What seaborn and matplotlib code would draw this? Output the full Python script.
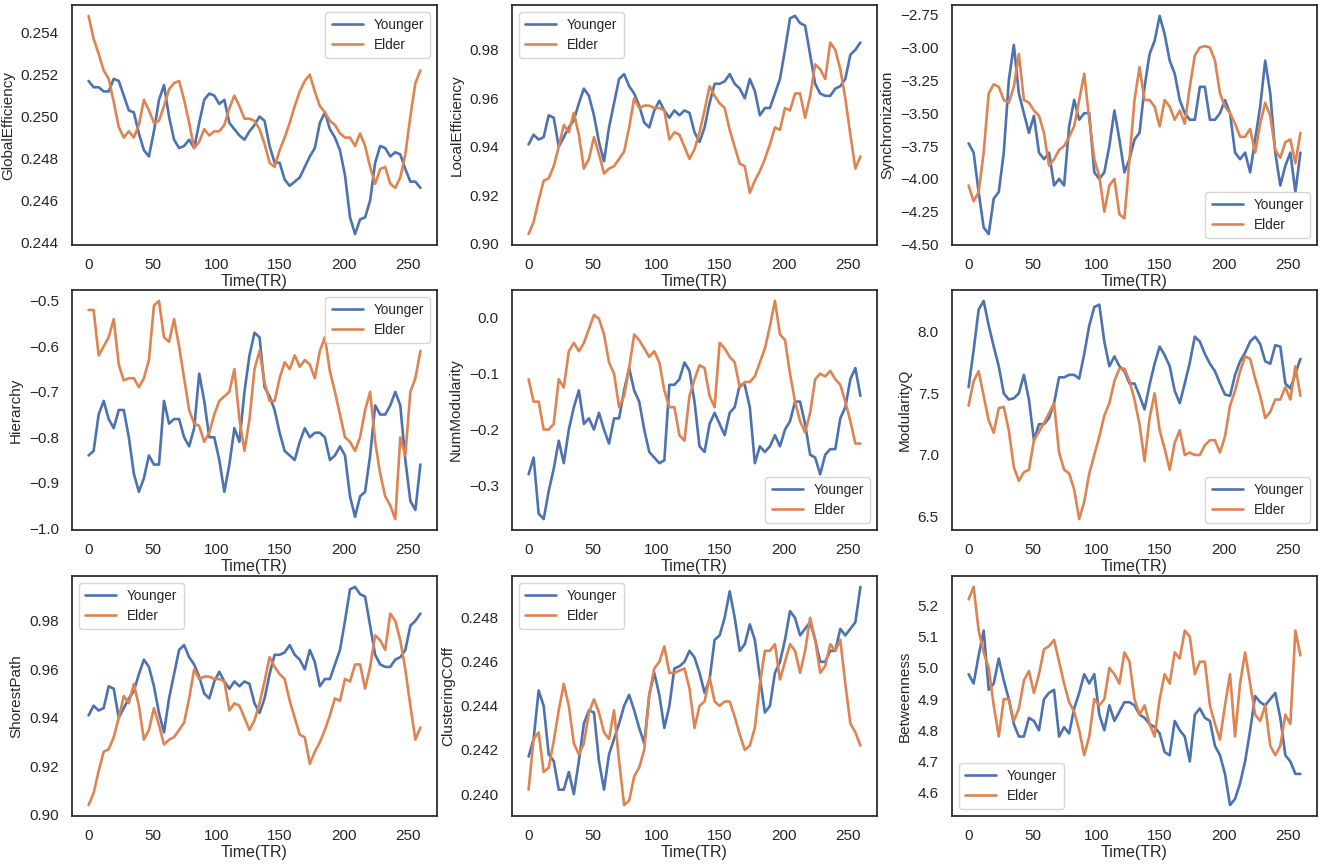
import numpy as np
import matplotlib
matplotlib.use("Agg")
import matplotlib.pyplot as plt
import seaborn as sns

sns.set_theme(style="white", context="notebook")
plt.rcParams['font.family'] = ['Liberation Sans', 'DejaVu Sans']
plt.rcParams['axes.edgecolor'] = '.15'
plt.rcParams['axes.linewidth'] = 1.25

# time axis (TR), sampled every ~4 TR
time_tr = np.linspace(0, 260, 67)
groups = ["Younger", "Elder"]

global_eff_young = [
    .2517, .2514, .2514, .2512, .2512, .2518, .2517, .2510, .2503, .2502,
    .2492, .2484, .2481, .2493, .2508, .2515, .2500, .2489, .2485, .2486,
    .2489, .2485, .2497, .2508, .2511, .2510, .2506, .2508, .2497, .2494,
    .2491, .2489, .2493, .2496, .2500, .2498, .2486, .2478, .2478, .2470,
    .2467, .2469, .2471, .2476, .2481, .2485, .2497, .2502, .2494, .2490,
    .2484, .2472, .2452, .2444, .2451, .2452, .2460, .2478, .2486, .2485,
    .2481, .2483, .2482, .2475, .2469, .2469, .2466]
global_eff_elder = [
    .2548, .2537, .2530, .2522, .2518, .2507, .2495, .2490, .2493, .2490,
    .2496, .2508, .2503, .2497, .2498, .2505, .2513, .2516, .2517, .2508,
    .2497, .2485, .2488, .2494, .2491, .2493, .2493, .2496, .2504, .2510,
    .2505, .2499, .2499, .2498, .2494, .2487, .2478, .2476, .2484, .2490,
    .2497, .2505, .2512, .2517, .2520, .2512, .2505, .2502, .2498, .2496,
    .2492, .2490, .2490, .2486, .2492, .2486, .2476, .2468, .2475, .2476,
    .2468, .2466, .2471, .2482, .2500, .2516, .2522]

local_eff_young = [
    .941, .945, .943, .944, .953, .952, .940, .944, .948, .951,
    .958, .964, .961, .953, .942, .934, .948, .958, .968, .970,
    .965, .962, .957, .950, .948, .955, .959, .955, .952, .955,
    .953, .955, .954, .946, .942, .948, .958, .966, .966, .967,
    .970, .966, .964, .960, .968, .963, .953, .956, .956, .962,
    .968, .980, .993, .994, .991, .990, .978, .966, .962, .961,
    .961, .964, .965, .968, .978, .980, .983]
local_eff_elder = [
    .904, .909, .918, .926, .927, .932, .940, .949, .946, .954,
    .945, .931, .935, .944, .937, .929, .931, .932, .935, .938,
    .948, .960, .956, .957, .957, .956, .956, .955, .943, .946,
    .945, .940, .935, .939, .946, .955, .965, .961, .958, .956,
    .947, .940, .933, .932, .921, .926, .930, .935, .941, .948,
    .947, .956, .955, .962, .962, .952, .961, .974, .972, .968,
    .983, .980, .972, .960, .945, .931, .936]

sync_young = [
    -3.73, -3.80, -4.10, -4.37, -4.42, -4.15, -4.10, -3.80, -3.25, -2.98,
    -3.35, -3.50, -3.65, -3.52, -3.80, -3.85, -3.80, -4.05, -4.00, -4.05,
    -3.60, -3.40, -3.55, -3.50, -3.50, -3.95, -4.00, -3.95, -3.75, -3.48,
    -3.70, -3.95, -3.85, -3.70, -3.65, -3.30, -3.05, -2.95, -2.76, -2.90,
    -3.10, -3.20, -3.40, -3.50, -3.55, -3.55, -3.30, -3.30, -3.55, -3.55,
    -3.50, -3.40, -3.50, -3.80, -3.85, -3.80, -3.95, -3.70, -3.45, -3.10,
    -3.35, -3.80, -4.05, -3.90, -3.80, -4.10, -3.80]
sync_elder = [
    -4.05, -4.17, -4.10, -3.80, -3.35, -3.28, -3.30, -3.40, -3.42, -3.30,
    -3.05, -3.40, -3.42, -3.48, -3.52, -3.65, -3.90, -3.85, -3.78, -3.75,
    -3.68, -3.60, -3.40, -3.20, -3.55, -3.85, -3.98, -4.25, -4.05, -4.00,
    -4.27, -4.30, -3.85, -3.40, -3.15, -3.40, -3.40, -3.45, -3.60, -3.40,
    -3.45, -3.55, -3.48, -3.58, -3.30, -3.06, -3.00, -2.99, -3.00, -3.10,
    -3.35, -3.45, -3.50, -3.58, -3.68, -3.68, -3.62, -3.80, -3.58, -3.42,
    -3.52, -3.78, -3.84, -3.72, -3.70, -3.88, -3.65]

hier_young = [
    -0.84, -0.83, -0.75, -0.72, -0.76, -0.78, -0.74, -0.74, -0.80, -0.88,
    -0.92, -0.89, -0.84, -0.86, -0.86, -0.72, -0.77, -0.76, -0.76, -0.80,
    -0.82, -0.78, -0.66, -0.72, -0.80, -0.80, -0.85, -0.92, -0.86, -0.78,
    -0.81, -0.70, -0.62, -0.57, -0.58, -0.69, -0.71, -0.74, -0.79, -0.83,
    -0.84, -0.85, -0.81, -0.78, -0.80, -0.79, -0.79, -0.80, -0.85, -0.84,
    -0.82, -0.84, -0.93, -0.975, -0.93, -0.92, -0.84, -0.73, -0.75, -0.75,
    -0.73, -0.70, -0.73, -0.85, -0.94, -0.96, -0.86]
hier_elder = [
    -0.52, -0.52, -0.62, -0.60, -0.58, -0.54, -0.64, -0.675, -0.67, -0.67,
    -0.69, -0.67, -0.63, -0.51, -0.50, -0.58, -0.59, -0.54, -0.60, -0.67,
    -0.74, -0.77, -0.775, -0.81, -0.79, -0.75, -0.72, -0.71, -0.70, -0.65,
    -0.76, -0.83, -0.76, -0.65, -0.61, -0.68, -0.72, -0.72, -0.67, -0.635,
    -0.65, -0.62, -0.645, -0.63, -0.64, -0.67, -0.61, -0.58, -0.655, -0.70,
    -0.75, -0.80, -0.81, -0.83, -0.80, -0.74, -0.70, -0.81, -0.88, -0.93,
    -0.95, -0.98, -0.80, -0.84, -0.70, -0.67, -0.61]

nummod_young = [
    -0.28, -0.25, -0.35, -0.36, -0.31, -0.27, -0.22, -0.26, -0.20, -0.16,
    -0.13, -0.19, -0.18, -0.20, -0.17, -0.20, -0.225, -0.18, -0.18, -0.13,
    -0.09, -0.13, -0.15, -0.20, -0.24, -0.25, -0.26, -0.255, -0.12, -0.12,
    -0.11, -0.08, -0.095, -0.15, -0.23, -0.24, -0.19, -0.17, -0.19, -0.21,
    -0.17, -0.16, -0.12, -0.12, -0.16, -0.26, -0.23, -0.24, -0.23, -0.21,
    -0.23, -0.20, -0.185, -0.15, -0.15, -0.19, -0.245, -0.25, -0.28, -0.245,
    -0.235, -0.235, -0.18, -0.16, -0.11, -0.09, -0.14]
nummod_elder = [
    -0.11, -0.15, -0.15, -0.20, -0.20, -0.19, -0.11, -0.125, -0.06, -0.045,
    -0.06, -0.045, -0.02, 0.005, -0.002, -0.03, -0.08, -0.10, -0.16, -0.14,
    -0.09, -0.03, -0.04, -0.055, -0.07, -0.06, -0.08, -0.13, -0.16, -0.16,
    -0.21, -0.22, -0.14, -0.11, -0.085, -0.09, -0.14, -0.16, -0.045, -0.055,
    -0.07, -0.08, -0.125, -0.115, -0.115, -0.105, -0.08, -0.055, -0.015, 0.03,
    -0.03, -0.04, -0.10, -0.15, -0.185, -0.205, -0.17, -0.11, -0.10, -0.105,
    -0.095, -0.11, -0.12, -0.15, -0.185, -0.225, -0.225]

modq_young = [
    7.55, 7.85, 8.18, 8.25, 8.05, 7.88, 7.72, 7.50, 7.45, 7.46,
    7.50, 7.65, 7.45, 7.12, 7.25, 7.25, 7.30, 7.42, 7.63, 7.63,
    7.65, 7.65, 7.62, 7.82, 8.05, 8.20, 8.22, 7.92, 7.72, 7.80,
    7.72, 7.68, 7.58, 7.58, 7.48, 7.37, 7.57, 7.74, 7.88, 7.81,
    7.72, 7.52, 7.42, 7.58, 7.75, 7.96, 7.92, 7.82, 7.74, 7.68,
    7.58, 7.49, 7.48, 7.65, 7.76, 7.83, 7.92, 7.96, 7.90, 7.76,
    7.74, 7.89, 7.88, 7.58, 7.54, 7.66, 7.78]
modq_elder = [
    7.40, 7.60, 7.68, 7.48, 7.28, 7.18, 7.38, 7.39, 7.20, 6.90,
    6.79, 6.86, 6.88, 7.12, 7.19, 7.26, 7.34, 7.42, 7.02, 6.88,
    6.85, 6.72, 6.48, 6.62, 6.85, 7.00, 7.15, 7.32, 7.42, 7.60,
    7.70, 7.70, 7.60, 7.45, 7.25, 6.95, 7.30, 7.50, 7.20, 7.05,
    6.88, 7.10, 7.20, 7.00, 7.02, 7.00, 7.00, 7.08, 7.12, 7.12,
    7.02, 7.15, 7.40, 7.52, 7.68, 7.80, 7.78, 7.62, 7.48, 7.30,
    7.35, 7.45, 7.45, 7.55, 7.45, 7.72, 7.48]

# ShorestPath curves are identical to LocalEfficiency in the source figure
shortest_young = list(local_eff_young)
shortest_elder = list(local_eff_elder)

clust_young = [
    .2417, .2425, .2447, .2440, .2418, .2415, .2402, .2402, .2410, .2400,
    .2415, .2432, .2438, .2437, .2415, .2402, .2418, .2425, .2432, .2440,
    .2445, .2438, .2430, .2423, .2445, .2455, .2445, .2430, .2440, .2457,
    .2458, .2460, .2465, .2462, .2455, .2446, .2452, .2470, .2472, .2480,
    .2492, .2480, .2465, .2468, .2477, .2470, .2453, .2437, .2440, .2455,
    .2460, .2470, .2483, .2480, .2472, .2475, .2478, .2470, .2460, .2460,
    .2465, .2465, .2475, .2472, .2475, .2478, .2494]
clust_elder = [
    .2402, .2425, .2428, .2410, .2412, .2424, .2438, .2450, .2440, .2423,
    .2418, .2423, .2437, .2443, .2437, .2428, .2425, .2438, .2415, .2395,
    .2397, .2408, .2412, .2420, .2445, .2457, .2460, .2467, .2455, .2455,
    .2456, .2457, .2448, .2430, .2440, .2442, .2453, .2442, .2440, .2442,
    .2442, .2435, .2427, .2420, .2422, .2430, .2450, .2465, .2465, .2468,
    .2452, .2460, .2468, .2465, .2455, .2465, .2480, .2470, .2455, .2458,
    .2468, .2465, .2470, .2450, .2432, .2428, .2422]

betw_young = [
    4.98, 4.95, 5.04, 5.12, 4.93, 4.95, 5.03, 4.96, 4.90, 4.82,
    4.78, 4.78, 4.84, 4.83, 4.80, 4.90, 4.92, 4.93, 4.78, 4.81,
    4.79, 4.87, 4.92, 4.98, 4.95, 4.98, 4.85, 4.80, 4.88, 4.83,
    4.86, 4.89, 4.89, 4.88, 4.85, 4.84, 4.82, 4.81, 4.79, 4.73,
    4.72, 4.83, 4.80, 4.78, 4.70, 4.85, 4.87, 4.84, 4.83, 4.75,
    4.72, 4.66, 4.56, 4.58, 4.63, 4.70, 4.80, 4.91, 4.89, 4.88,
    4.90, 4.92, 4.84, 4.72, 4.70, 4.66, 4.66]
betw_elder = [
    5.22, 5.26, 5.12, 5.05, 5.00, 4.88, 4.78, 4.90, 4.90, 4.83,
    4.87, 4.96, 4.99, 4.92, 4.98, 5.06, 5.07, 5.09, 5.02, 4.95,
    4.89, 4.86, 4.80, 4.72, 4.78, 4.90, 4.88, 4.90, 5.00, 4.98,
    4.95, 5.05, 5.02, 4.90, 4.85, 4.88, 4.82, 4.78, 4.90, 4.98,
    4.95, 5.05, 5.03, 5.12, 5.10, 4.98, 5.02, 5.02, 4.88, 4.82,
    4.77, 4.88, 4.98, 4.78, 4.95, 5.05, 4.95, 4.85, 4.83, 4.88,
    4.75, 4.72, 4.75, 4.85, 4.82, 5.12, 5.04]

metric_names = ["GlobalEfficiency", "LocalEfficiency", "Synchronization",
                "Hierarchy", "NumModularity", "ModularityQ",
                "ShorestPath", "ClusteringCOff", "Betweenness"]
xtick_vals = [0, 50, 100, 150, 200, 250]
ytick_vals = [
    [0.244, 0.246, 0.248, 0.250, 0.252, 0.254],
    [0.90, 0.92, 0.94, 0.96, 0.98],
    [-4.50, -4.25, -4.00, -3.75, -3.50, -3.25, -3.00, -2.75],
    [-1.0, -0.9, -0.8, -0.7, -0.6, -0.5],
    [-0.3, -0.2, -0.1, 0.0],
    [6.5, 7.0, 7.5, 8.0],
    [0.90, 0.92, 0.94, 0.96, 0.98],
    [0.240, 0.242, 0.244, 0.246, 0.248],
    [4.6, 4.7, 4.8, 4.9, 5.0, 5.1, 5.2],
]
series = [
    (global_eff_young, global_eff_elder),
    (local_eff_young, local_eff_elder),
    (sync_young, sync_elder),
    (hier_young, hier_elder),
    (nummod_young, nummod_elder),
    (modq_young, modq_elder),
    (shortest_young, shortest_elder),
    (clust_young, clust_elder),
    (betw_young, betw_elder),
]
legend_locs = ["upper right", "upper left", "lower right",
               "upper right", "lower right", "lower right",
               "upper left", "upper left", "lower left"]

palette = sns.color_palette("deep")
colors = [palette[0], palette[1]]

W, H = 1325, 866
fig = plt.figure(figsize=(W / 100, H / 100), dpi=100)
lefts = [72, 512, 952]
tops = [5, 290, 576]
aw, ah = 365, 240

for i, name in enumerate(metric_names):
    r, c = divmod(i, 3)
    ax = fig.add_axes([lefts[c] / W, 1 - (tops[r] + ah) / H, aw / W, ah / H])
    for g, vals, col in zip(groups, series[i], colors):
        sns.lineplot(x=time_tr, y=vals, ax=ax, label=g, color=col, linewidth=1.9)
    ax.set_xticks(xtick_vals)
    ax.set_yticks(ytick_vals[i])
    ax.tick_params(labelsize=11)
    ax.set_xlabel("Time(TR)", fontsize=11.5, labelpad=1)
    ax.set_ylabel(name, fontsize=11, labelpad=4)
    ax.legend(loc=legend_locs[i], fontsize=9.8, handlelength=2.3,
              labelspacing=0.45, borderpad=0.45)
    for s in ax.spines.values():
        s.set_visible(True)

fig.savefig("out.png", dpi=100)
